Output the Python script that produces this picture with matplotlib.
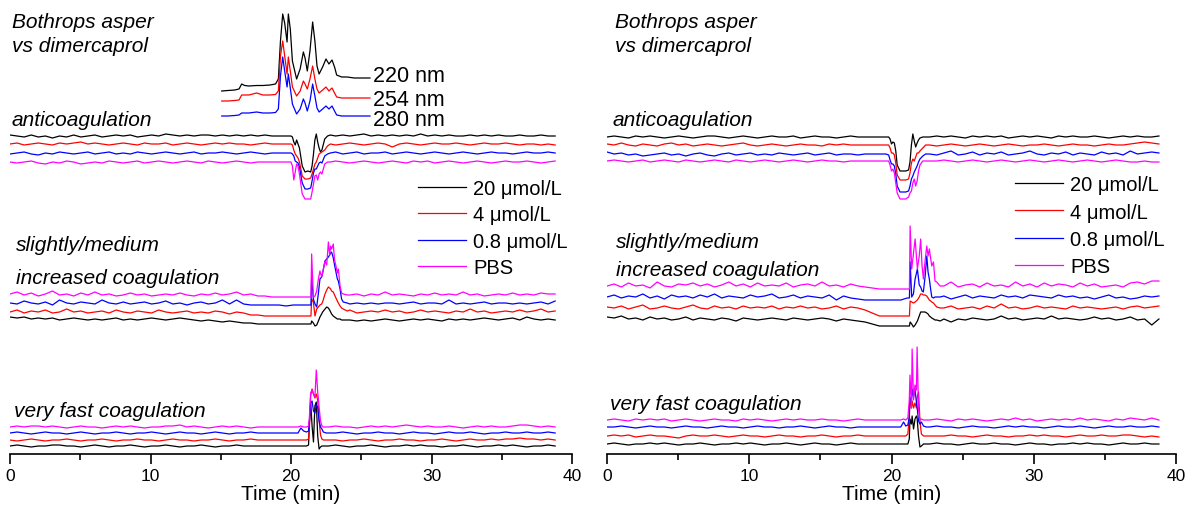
import numpy as np
import matplotlib
matplotlib.use("Agg")
import matplotlib.pyplot as plt

plt.rcParams["font.family"] = ["Liberation Sans", "DejaVu Sans"]

T_END = 38.8
COLORS = ["black", "red", "blue", "magenta"]
LABELS = ["20 \u03bcmol/L", "4 \u03bcmol/L", "0.8 \u03bcmol/L", "PBS"]

# ---- UV traces (left panel only) ----
UV_T = [15.07, 15.5, 16.0, 16.3, 16.49, 16.7, 17.0, 17.55, 18.0, 18.5, 18.9, 19.1, 19.25,
        19.41, 19.55, 19.72, 19.81, 19.95, 20.1, 20.4, 20.65, 20.88, 21.0, 21.16, 21.35,
        21.54, 21.7, 21.85, 22.0, 22.25, 22.49, 22.7, 22.92, 23.1, 23.25, 23.6, 24.0,
        24.5, 25.0, 25.62]
UV_220 = [0, 0.5, 1, 2, 7, 5.5, 5, 5.5, 5.5, 6, 7, 12, 50, 77, 68, 49, 77, 62, 30, 12,
          22, 39, 33, 20, 40, 69, 50, 25, 17, 24, 32, 27, 31, 24, 16, 14, 14, 13, 13, 13]
UV_254 = [0, 0, 0.5, 1, 6, 6, 6, 8, 6, 6, 6.5, 10, 45, 60, 45, 27, 44, 30, 14, 5,
          10, 20, 17, 12, 22, 35, 22, 12, 8, 11, 14, 10, 13, 8, 4, 3, 3, 3, 3, 3]
UV_280 = [0, 0, 0.5, 1, 3, 3, 3, 4, 3, 3, 3.5, 7, 40, 59, 45, 29, 42, 28, 12, 2,
          7, 17, 13, 5, 15, 32, 20, 8, 4, 7, 10, 7, 10, 5, 1, 0, 0, 0, 0, 0]
UV_NAMES = ["220 nm", "254 nm", "280 nm"]

# ---- anticoagulation ----
ANTI_L_T = [19.8, 20.0, 20.1, 20.2, 20.3, 20.4, 20.5, 20.6, 20.8, 21.0, 21.2, 21.4, 21.5,
            21.6, 21.7, 21.8, 21.9, 22.0, 22.1, 22.2, 22.4, 22.6, 22.8]
ANTI_R_T = [19.6, 19.8, 19.9, 20.0, 20.1, 20.2, 20.3, 20.4, 20.6, 20.8, 21.0, 21.2, 21.3,
            21.4, 21.5, 21.6, 21.7, 21.8, 21.9, 22.0, 22.2, 22.4, 22.6]
ANTI_L_PEAK = [
    [0, 0, -1, -6, -9, -4, -8, -12, -30, -36, -35, -36, -30, -18, -4, 2, -6, -12, -16, -14, -3, 0, 1],
    [0, 0, -1, -6, -10, -12, -14, -18, -32, -35, -35, -34, -30, -25, -20, -18, -14, -10, -9, -8, -6, -2, 0],
    [0, 0, -1, -3, -8, -9, -10, -14, -30, -36, -36, -35, -28, -20, -16, -16, -13, -10, -9, -10, -3, -1, 0],
    [0, 0, -4, -18, -10, -2, -4, -12, -32, -37, -37, -37, -30, -22, -14, -13, -18, -12, -10, -12, -2, 0, 0],
]
ANTI_R_PEAK = [
    [0, 0, -2, -7, -5, -6, -14, -28, -34, -34, -34, -33, -25, -8, 3, -4, -10, -6, -3, -1, 0, 0, 0],
    [0, 0, -3, -8, -8, -10, -18, -30, -35, -35, -35, -34, -28, -18, -14, -16, -12, -8, -8, -6, -3, 0, 0],
    [0, -1, -6, -10, -10, -12, -20, -32, -38, -38, -38, -37, -32, -25, -22, -18, -15, -12, -8, -5, -2, 0, 0],
    [0, 0, -4, -10, -8, -12, -22, -32, -38, -38, -38, -36, -32, -30, -22, -18, -25, -20, -10, -4, 0, 0, 0],
]
ANTI_L_BASE = [
    [1, 0, -1, 1, -1, 0, -2, 0, -1, 1, -1, 0, 1, -1, 0, 1, 0, 1, -1, 0, 1, 0, 2, 1, 0, 1, 0, 1, 1, 0,
     1, 0, 1, 0, 1, 0, 1, 0, 0, 0, 0, 0, 0, 0, 0, 1, 0, 1, 0, 1, 2, 0, 1, 0, 1, 0, 1, 0, 2, 0,
     1, 0, 1, 0, 0, 1, 0, 1, 0, 1, 0, 0, 1, 0, 0, 1, 0, 0],
    [0, 1, -1, 0, 1, 0, -1, 1, 0, 1, 2, 0, 1, 0, -1, 0, 1, 0, -1, 1, 0, 0, 1, -1, 0, 1, 0, -1, 0, 1,
     0, 1, 0, 0, -1, 0, 1, 0, 0, 0, 0, 0, 0, 0, 0, 0, -1, 0, 1, 0, -1, 0, 1, 0, -3, 0, 1, 0, -1, 0,
     1, 0, 0, 1, 0, -1, 0, 1, 0, 0, 1, 0, -1, 0, 0, -1, 0, -1],
    [-1, 0, 1, -1, -2, 0, -1, 1, 0, -1, 0, 1, -1, 0, 1, -1, 0, -1, 1, 0, -1, 0, 1, 0, -1, 0, 1, -1, 0, 0,
     1, 0, -1, 0, 1, 0, -1, 0, 0, 0, 0, 0, 0, 0, 0, 0, 1, -1, 0, 1, -1, 0, 0, 1, -1, 0, 1, 0, -1, 0,
     1, 0, -1, 0, 1, 0, -1, 0, 1, 0, 0, -1, 0, 1, 0, 0, 1, 0],
    [0, -1, 0, 1, -1, -2, 0, -1, 1, 0, -2, -1, 0, -1, 1, 0, -1, 0, 1, -1, 0, 1, 0, -1, 0, 1, 0, -1, 1, 0,
     -1, 0, 1, 0, -1, 0, 0, 0, 0, 0, 0, 0, 0, 0, 0, 0, 1, 0, -1, 0, 1, 0, -1, 0, 1, 0, -1, 1, 0, 1,
     -1, 0, 1, 0, -1, 0, 1, 0, -1, 0, 1, 0, 0, 1, 0, -1, 0, 1],
]
ANTI_R_BASE = [
    [0, 1, 0, -1, 1, 0, 1, 0, -1, 0, 1, 0, -1, 0, 1, 1, 0, -1, 0, 1, 0, -1, 0, 1, 0, 0, 1, -1, 0, 1,
     0, 0, -1, 0, 1, 0, 0, 0, 0, 0, 0, 0, 0, 0, 0, 0, 1, 0, 1, 0, -1, 1, 0, 1, 0, 1, -1, 0, 1, 0,
     1, 0, -1, 1, 0, 1, 0, 0, 1, 0, -1, 0, 1, 0, 1, 0, 0, 1],
    [1, 0, 2, 0, -1, 1, 0, -1, 1, 2, 0, 1, -1, 0, 1, 0, -1, 0, 1, 2, 0, -1, 0, 1, 0, -1, 0, 1, 0, 0,
     -1, 1, 0, 1, 0, 0, 0, 0, 0, 0, 0, 0, 0, 0, 0, 0, -1, 0, 1, 0, -1, 0, 1, 0, -1, 0, 1, 0, -1, 0,
     0, 1, 0, -1, 0, 1, 0, 0, -1, 0, 1, 0, 0, 1, 2, 3, 2, 1],
    [2, 0, 1, -1, 0, -2, -1, 0, 1, -1, 0, -2, 0, 1, -1, -2, 0, 1, -1, 0, 1, -1, 0, -1, 1, 0, -1, 0, 1, -1,
     0, 1, -1, 0, 0, -1, 0, 0, 0, 0, 0, 0, 0, 0, 0, 0, -1, 1, 3, -1, 0, 2, -1, 1, 0, 2, -1, 0, 1, 3,
     0, -1, 1, 0, 2, -1, 1, 0, -1, 2, 0, 1, -1, 3, 0, 1, 2, 1],
    [0, 1, 0, -1, 0, 1, -1, 0, 1, 0, -1, 1, 0, -1, 0, 1, 0, -1, 1, 0, -1, 0, 1, 0, -1, 0, 1, 0, -1, 0,
     1, 0, 0, -1, 0, 0, 0, 0, 0, 0, 0, 0, 0, 0, 0, 0, 0, 1, 0, -1, 0, 1, 0, -1, 0, 1, 0, -1, 0, 1,
     0, -1, 0, 1, 0, -1, 0, 1, 0, -1, 0, 1, 0, -1, -1, 0, -1, -1],
]

# ---- slightly / medium increased coagulation ----
SLIGHT_L_T = [21.2, 21.42, 21.47, 21.59, 21.71, 21.83, 21.95, 22.06, 22.18, 22.25, 22.42, 22.54,
              22.66, 22.75, 22.82, 22.89, 23.01, 23.1, 23.2, 23.3, 23.37, 23.49, 23.6, 23.72, 24.0]
SLIGHT_L_PEAK = [
    [-5, -5, -2, -4, -7, -6, -2, 2, 5, 7, 10, 12, 11, 9, 7, 5, 3, 2, 1, 0, 0, 0, -1, -1, -1],
    [-4, -4, 13, 10, -4, 3, 5, 7, 8, 10, 18, 22, 25, 24, 23, 21, 20, 17, 14, 11, 9, 6, 4, 3, 1],
    [-2, -2, 26, 4, -1, -4, 10, 24, 26, 30, 42, 44, 46, 48, 50, 51, 45, 38, 31, 24, 22, 14, 4, 1, 0],
    [-2, -2, 41, -2, -1, 4, 16, 24, 18, 22, 34, 30, 53, 40, 49, 46, 51, 35, 29, 22, 26, 9, 2, 1, 0],
]
SLIGHT_R_T = [21.1, 21.26, 21.31, 21.42, 21.54, 21.66, 21.82, 21.95, 22.05, 22.15, 22.24, 22.36,
              22.48, 22.57, 22.66, 22.75, 22.83, 22.95, 23.06, 23.18, 23.42]
SLIGHT_R_PEAK = [
    [-7, -7, -3, -5, -8, -6, -2, 3, 7, 7, 7, 7, 6, 5, 3, 2, 1, 0, -1, -1, -2],
    [-8, -8, 7, 6, 5, 6, 8, 11, 14, 14, 13, 13, 12, 10, 8, 7, 6, 5, 3, 1, 0],
    [-1, -1, 35, 0, 3, 18, 28, 12, 10, 6, 5, 20, 41, 25, 18, 8, 0, -1, 0, 0, 0],
    [-3, -3, 60, 17, 32, 47, 17, 30, 47, 20, 7, 25, 40, 30, 37, 28, 20, 24, 5, 4, 0],
]
SLIGHT_L_BASE = [
    [2, 1, 2, 0, 1, 0, 1, -1, 0, 1, 0, -1, 0, -1, 0, 1, -1, 0, -1, 0, 1, 0, -1, 0, 1, 0, -1, -2, -1, -2,
     -3, -2, -3, -4, -4, -5, -5, -5, -5, -5, -5, -5, -5, -5, 0, 0, -1, -2, -1, -2, -1, -2, -1, 0, -1, -2, -1, 0, -1, 0,
     -1, -2, 0, -1, 0, -1, 0, 1, 0, -1, 0, 1, -1, 2, 0, -1, 0, -1],
    [0, 2, -1, 1, 0, 2, -1, 0, 3, 0, 1, -1, 0, 1, -1, 2, 0, -1, 1, 0, -1, 2, 0, -1, 0, 1, -1, 0, -1, 1,
     0, -2, 0, -1, -3, -3, -4, -4, -4, -4, -4, -4, -4, -4, 0, 0, 1, 0, 2, -1, 0, 1, 0, 2, 0, 1, -1, 0, 2, 0,
     1, 0, -1, 1, 0, 3, 0, 1, -1, 0, 1, 0, 2, 0, 1, 3, 0, 1],
    [0, -1, 2, 0, -1, 1, -2, 3, 0, -1, 1, 0, -1, 3, 0, -1, 1, -1, 0, 1, -1, 0, 2, -1, 0, -2, 0, 1, -1, 0,
     3, -1, 3, -1, -2, -2, -2, -2, -2, -3, -2, -2, -2, -2, 0, 0, -1, 0, -1, 0, -1, 0, -1, 0, 0, -1, 0, 1, -1, 0,
     0, -1, 3, -1, 0, -1, 0, 1, -1, 0, 0, -1, 0, -1, 0, 1, -1, 2],
    [1, 3, 0, 2, -1, 1, 4, 0, 1, -1, 2, 0, 3, 0, 1, -1, 0, 2, 0, 1, -1, 0, 1, 0, 2, 0, -1, 1, 0, 2,
     0, 1, 3, 0, 1, -1, -1, -2, -2, -2, -2, -2, -2, -2, 0, 0, 1, 2, 0, 1, -1, 1, 0, 3, 0, 1, 0, -1, 1, 0,
     2, 0, 1, 0, 3, 0, 1, -1, 0, 1, 0, 2, 0, 1, 0, 2, 1, 1],
]
SLIGHT_R_BASE = [
    [2, 1, 3, 0, 1, -1, 2, 0, 1, -1, 0, 2, -1, 1, 0, -1, 1, 0, -2, 1, 0, -1, 0, 1, 0, -1, 1, 0, -1, 0,
     1, 0, -2, 0, -1, -2, -3, -5, -7, -7, -7, -7, -7, -7, 0, 0, -1, 0, -3, 0, -1, 1, 0, -1, 0, 3, 0, 1, -1, 0,
     1, 0, 3, 0, 1, 0, -1, 0, 2, 0, 1, -1, 0, 2, -1, 0, -6, 0],
    [1, 0, 2, -1, 1, 3, -1, 0, 2, 0, -1, 1, 3, 0, -1, 2, 0, 1, -1, 2, 0, 1, 0, 2, -1, 1, 0, 2, 0, 1,
     -1, 0, 2, -1, 1, 0, -2, -5, -8, -8, -8, -8, -8, -8, 0, 0, -1, 0, 2, -1, 0, 1, -1, 2, 0, 4, 0, 1, -1, 0,
     2, 0, 1, 0, -1, 2, 0, 1, 0, -1, 0, 1, -1, 1, 2, 0, 1, 2],
    [0, 2, -1, 1, 0, 3, -1, 1, -2, 2, 0, 1, -1, 2, 0, 3, -1, 1, 0, -1, 2, 0, 1, 3, -1, 0, 2, -1, 1, 0,
     -1, 2, -3, 1, -1, -2, -3, -3, -3, -3, -3, -3, -3, 0, 0, 0, -1, 1, -2, 0, 2, -1, 1, 0, -1, 2, 0, 1, -1, 2,
     1, 0, -1, 2, 0, 1, -1, 0, -2, 0, 2, -1, 0, -2, -1, 1, 0, 1],
    [0, 2, -1, 3, 0, 1, -2, 4, 0, -1, 2, 1, 3, 0, 2, -1, 1, 4, 0, 2, -1, 3, 0, 1, 0, 3, -1, 1, 2, 0,
     4, 0, 1, -1, 2, 0, -1, -2, -3, -3, -3, -3, -3, 0, 0, 0, -2, 0, 4, -1, 1, 2, -1, 3, 0, 1, -1, 4, 0, 2,
     -1, 3, 0, 2, 1, -1, 3, 0, 2, -1, 0, 1, -1, 3, 4, 2, 5, 5],
]

# ---- very fast coagulation ----
FAST_L_T = [20.5, 20.7, 20.9, 21.1, 21.25, 21.3, 21.4, 21.5, 21.6, 21.7, 21.8, 21.9, 22.0,
            22.1, 22.2, 22.3, 22.5]
FAST_L_PEAK = [
    [0, 0, 0, 0, 1, 20, 44, 20, 4, 40, 44, 10, -3, -1, 0, 0, 0],
    [0, 0, 0, 0, 1, 10, 45, 51, 46, 42, 46, 40, 20, 5, 1, 0, 0],
    [0, 5, 2, 1, 2, 10, 30, 32, 22, 20, 28, 26, 12, 6, 4, 1, 0],
    [0, 1, 0, 0, 1, 8, 34, 37, 33, 30, 57, 35, 20, 6, 1, 0, 0],
]
FAST_R_T = [20.65, 20.85, 21.0, 21.15, 21.25, 21.3, 21.4, 21.45, 21.55, 21.65, 21.75, 21.8, 21.9,
            22.0, 22.1, 22.25, 22.45]
FAST_R_PEAK = [
    [0, 0, 0, 0, 5, 25, 20, 28, 15, 25, 28, 26, 8, -3, -2, 0, 0],
    [0, 0, 0, 2, 20, 38, 28, 35, 28, 33, 28, 38, 44, 15, 2, 0, 0],
    [0, 5, 1, 2, 10, 30, 25, 38, 30, 38, 25, 20, 6, 3, 5, 1, 0],
    [0, 1, 0, 2, 20, 45, 12, 71, 20, 35, 30, 73, 10, 0, 1, 0, 0],
]
FAST_L_BASE = [
    [0, 1, 0, -1, 0, 0, 1, 1, 0, 0, -1, 0, 1, 0, -1, 0, 0, 1, 0, -1, 0, 0, 1, 0, -1, 0, 0, 1, 0, -1,
     0, 0, 1, 0, 0, 0, 0, 0, 0, 0, 0, 0, 0, 0, 0, 0, 1, 0, -1, 0, 0, 1, 0, -1, 0, 0, 1, 0, 1, 0,
     0, -1, 0, 0, 1, 0, -1, 0, 0, 1, 0, 1, 0, -1, 0, 0, 1, 0],
    [0, -1, 0, 1, 0, -1, 0, 0, 1, 0, -1, 0, 0, 1, 0, -1, 0, 0, 1, 0, 0, -1, 0, 1, 0, 0, -1, 0, 0, 1,
     0, -1, 0, 0, 1, 0, 0, 0, 0, 0, 0, 0, 0, 0, 0, 0, 0, -1, 0, 0, 1, 0, -1, 0, 0, 1, 0, 0, -1, 0,
     0, 1, 0, -1, 0, 1, 0, 0, 1, 0, 1, 1, 2, 1, 1, 0, 1, 0],
    [0, 1, 0, -1, 0, 1, 0, 0, -1, 0, 1, 0, -1, 0, 0, 1, 0, -1, 0, 0, 1, 0, -1, 0, 1, 0, 0, -1, 0, 1,
     0, -1, 0, 0, 1, 0, 0, 0, 0, 0, 0, 0, 0, 0, 0, 0, 0, 1, 0, -1, 0, 0, 1, 0, 0, -1, 0, 1, 0, 0,
     -1, 0, 1, 0, 0, 1, 0, -1, 0, 0, 1, 0, 0, 1, 0, 0, 1, 0],
    [0, 1, 0, 1, 1, 0, 1, 0, -1, 0, 1, 0, 0, -1, 0, 1, 0, 1, 0, -1, 0, 0, 1, 1, 2, 0, 1, 0, -1, 0,
     1, 0, 1, 0, -1, 0, 0, 0, 0, 0, 0, 0, 0, 0, 0, 0, 1, 0, 0, -1, 0, 1, 0, 1, 0, 1, 2, 1, 0, 1,
     0, 0, 1, 0, -1, 0, 1, 0, 1, 0, 0, 1, 2, 2, 1, 0, 1, 0],
]
FAST_R_BASE = [
    [0, 1, 0, -1, 0, 0, 1, 0, 1, 0, -1, 0, 0, 1, 0, -1, 0, 0, 1, 0, 1, 0, -1, 0, 0, 1, 0, -1, 0, 1,
     0, 0, -1, 0, 1, 0, 0, 0, 0, 0, 0, 0, 0, 0, 0, 0, 1, 0, 0, -1, 0, 1, 0, 0, 1, 0, 0, -1, 0, 1,
     0, 0, -1, 0, 0, 1, 0, 1, 0, 0, -1, 0, 1, 0, 0, 1, 0, 0],
    [0, 1, 0, 1, -1, 0, 1, 0, 0, -1, -2, 0, 1, 0, 0, 1, 0, -1, 0, 1, 0, 0, -1, 0, 1, 0, 0, -1, 0, 0,
     1, 0, -1, 0, 0, 1, 0, 0, 0, 0, 0, 0, 0, 0, 0, 0, 0, 0, 1, 0, 0, -1, 0, 1, 0, 0, -1, 0, 0, 1,
     0, 1, 0, 0, -1, 0, 1, 0, 0, 1, 0, 0, 1, 1, 0, -1, 0, -1],
    [0, 0, 1, 0, -1, 0, 1, 0, 0, -1, 0, 1, 0, 0, -1, 0, 1, 0, 0, -1, 0, 1, 0, 0, -1, 0, 0, 1, 0, -1,
     0, 1, 0, 0, -1, 0, 0, 0, 0, 0, 0, 0, 0, 0, 0, 0, 1, 0, 0, -1, 0, 1, 0, 0, -1, 0, 1, 0, 1, 0,
     0, -1, 0, 1, 0, 0, 1, 0, -1, 0, 1, 0, 0, 1, 0, 0, 1, 0],
    [0, 1, 0, -1, 1, 0, 1, 0, 1, -1, 0, 1, 0, -1, 0, 1, 0, 0, -1, 1, 0, 1, 0, -1, 0, 1, 0, 1, 0, 0,
     1, 0, 0, -1, 0, 1, 0, 0, 0, 0, 0, 0, 0, 0, 0, 0, 1, 0, -1, 1, 0, 1, 0, -1, 0, 1, 0, 2, 0, 1,
     -1, 0, 1, 0, 1, 0, 2, 0, 1, 0, -1, 1, 0, 2, 1, 0, 2, 0],
]

# vertical stacking of the traces (black, red, blue, magenta), in axis units
STACK_L = {"anti": [318, 310, 301, 292], "slight": [135, 142, 151, 159], "fast": [8, 14, 21, 27]}
STACK_R = {"anti": [317, 309, 300, 293], "slight": [135, 146, 157, 168], "fast": [10, 18, 27, 34]}
UV_STACK = [363, 353, 338]
UV_LABEL_Y = [378, 355, 334]
UV_COLORS = ["black", "red", "blue"]


def merge(base, tp, vp):
    tb = np.linspace(0, T_END, len(base))
    b = np.asarray(base, dtype=float)
    keep = (tb < tp[0]) | (tb > tp[-1])
    t = np.concatenate([tb[keep], np.asarray(tp, dtype=float)])
    v = np.concatenate([b[keep], np.asarray(vp, dtype=float)])
    order = np.argsort(t, kind="stable")
    return t[order], v[order]


def draw_group(ax, bases, tp, peaks, levels):
    handles = []
    for base, peak, lev, c in zip(bases, peaks, levels, COLORS):
        t, v = merge(base, tp, peak)
        h, = ax.plot(t, lev + v, color=c, lw=0.9)
        handles.append(h)
    return handles


def style_axis(ax):
    ax.set_xlim(0, 40)
    ax.set_ylim(0, 455)
    for s in ["top", "left", "right"]:
        ax.spines[s].set_visible(False)
    ax.spines["bottom"].set_linewidth(1.2)
    ax.set_yticks([])
    ax.set_xticks([0, 10, 20, 30, 40])
    ax.set_xticks([5, 15, 25, 35], minor=True)
    ax.tick_params(axis="x", which="major", direction="out", length=7, width=1.2, labelsize=12.5, pad=3)
    ax.tick_params(axis="x", which="minor", direction="out", length=4, width=1.2)
    ax.set_xlabel("Time (min)", fontsize=15, labelpad=1)
    ax.patch.set_visible(False)


def label(ax, x, y, s, size=15, style="italic"):
    ax.text(x, y, s, fontsize=size, style=style, ha="left", va="center")


def main():
    fig = plt.figure(figsize=(11.96, 5.10), dpi=100)
    axl = fig.add_axes([10 / 1196, 55 / 510, 562 / 1196, 455 / 510])
    axr = fig.add_axes([607 / 1196, 55 / 510, 569 / 1196, 455 / 510])

    # left panel
    for vals, lev, c in zip([UV_220, UV_254, UV_280], UV_STACK, UV_COLORS):
        axl.plot(UV_T, [lev + v for v in vals], color=c, lw=0.9)
    for name, y in zip(UV_NAMES, UV_LABEL_Y):
        axl.text(25.85, y, name, fontsize=15.5, ha="left", va="center")
    hl = draw_group(axl, ANTI_L_BASE, ANTI_L_T, ANTI_L_PEAK, STACK_L["anti"])
    draw_group(axl, SLIGHT_L_BASE, SLIGHT_L_T, SLIGHT_L_PEAK, STACK_L["slight"])
    draw_group(axl, FAST_L_BASE, FAST_L_T, FAST_L_PEAK, STACK_L["fast"])

    # right panel
    hr = draw_group(axr, ANTI_R_BASE, ANTI_R_T, ANTI_R_PEAK, STACK_R["anti"])
    draw_group(axr, SLIGHT_R_BASE, SLIGHT_R_T, SLIGHT_R_PEAK, STACK_R["slight"])
    draw_group(axr, FAST_R_BASE, FAST_R_T, FAST_R_PEAK, STACK_R["fast"])

    label(axl, 0.14, 433, "Bothrops asper")
    label(axl, 0.14, 408, "vs dimercaprol")
    label(axl, 0.14, 334, "anticoagulation")
    label(axl, 0.43, 209, "slightly/medium")
    label(axl, 0.43, 176, "increased coagulation")
    label(axl, 0.28, 43, "very fast coagulation")

    label(axr, 0.56, 433, "Bothrops asper")
    label(axr, 0.56, 408, "vs dimercaprol")
    label(axr, 0.42, 334, "anticoagulation")
    label(axr, 0.63, 212, "slightly/medium")
    label(axr, 0.63, 185, "increased coagulation")
    label(axr, 0.21, 50, "very fast coagulation")

    for ax, h, anchor, gap in [(axl, hl, (0.726, 0.605), 0.37), (axr, hr, (0.717, 0.613), 0.42)]:
        ax.legend(h, LABELS, loc="upper left", bbox_to_anchor=anchor, frameon=False,
                  fontsize=14.5, handlelength=2.4, handletextpad=0.35, labelspacing=gap,
                  borderaxespad=0, borderpad=0)

    for ax in (axl, axr):
        style_axis(ax)

    fig.savefig("out.png", dpi=100)
    plt.close(fig)


if __name__ == "__main__":
    main()
